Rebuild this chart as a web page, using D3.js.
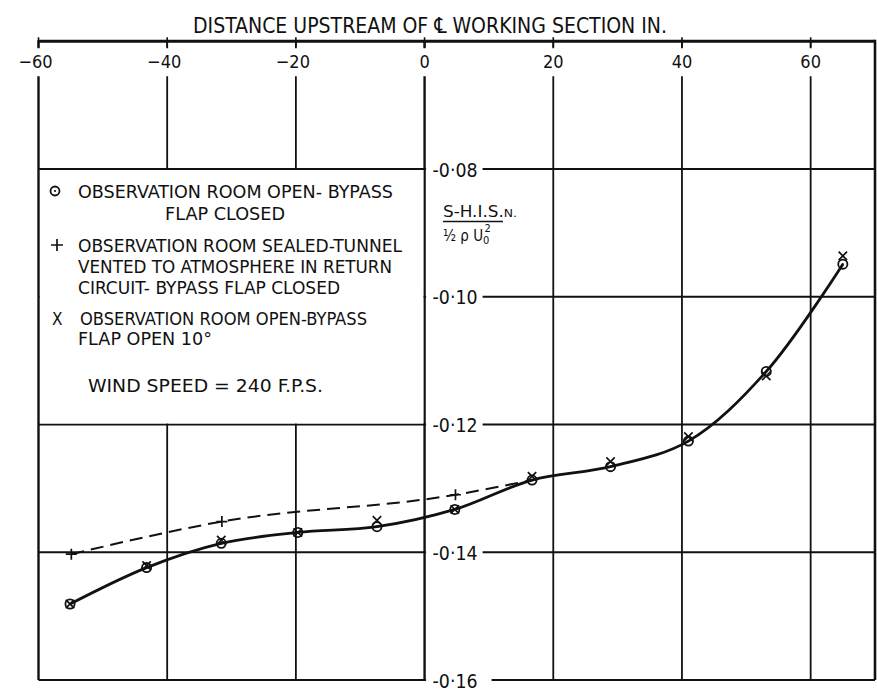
<!DOCTYPE html>
<html><head><meta charset="utf-8">
<script src="https://cdn.jsdelivr.net/npm/d3@7"></script>
<style>
body{margin:0;background:#fff}
svg{display:block}
text{font-family:"DejaVu Sans Condensed","DejaVu Sans",sans-serif;fill:#111}
</style>
</head><body><svg id="c" width="877" height="698"></svg>
<script>
// ---- data ----
const xTicks = [-60, -40, -20, 0, 20, 40, 60];
const xTickLabels = ["−60", "−40", "−20", "0", "20", "40", "60"];
const yTicks = [-0.08, -0.10, -0.12, -0.14, -0.16];
const yTickLabels = ["-0·08", "-0·10", "-0·12", "-0·14", "-0·16"];

const distance = [-55.1, -43.2, -31.6, -19.7, -7.4, 4.7, 16.7, 28.9, 41.0, 53.1, 65.0];
const openBypassClosed = [-0.1481, -0.1424, -0.1386, -0.1369, -0.1360, -0.1333, -0.1287, -0.1266, -0.1226, -0.1117, -0.0949];
const openBypassOpen10 = [-0.1481, -0.1421, -0.1381, -0.1369, -0.1350, -0.1333, -0.1281, -0.1258, -0.1219, -0.1124, -0.0936];
const sealedDistance = [-54.9, -31.5, 4.8, 16.7];
const sealedVented = [-0.1403, -0.1352, -0.1310, -0.1287];

const legendLines = [
  {t: "OBSERVATION ROOM OPEN- BYPASS", x: 78, y: 198, w: 315},
  {t: "FLAP CLOSED", x: 165, y: 220, w: 120},
  {t: "OBSERVATION ROOM SEALED-TUNNEL", x: 78, y: 252, w: 324},
  {t: "VENTED TO ATMOSPHERE IN RETURN", x: 78, y: 273, w: 314},
  {t: "CIRCUIT- BYPASS FLAP CLOSED", x: 78, y: 294, w: 262},
  {t: "OBSERVATION ROOM OPEN-BYPASS", x: 80, y: 325, w: 287},
  {t: "FLAP OPEN 10°", x: 78, y: 345, w: 134},
  {t: "WIND SPEED = 240 F.P.S.", x: 88, y: 392, w: 235}
];

// ---- scales ----
const x = d3.scaleLinear().domain([-60, 70]).range([38.5, 875]);
const y = d3.scaleLinear().domain([-0.06, -0.16]).range([41.25, 680]);

const svg = d3.select("#c");
svg.append("rect").attr("width", 877).attr("height", 698).attr("fill", "#fff");
const ink = "#111";

// gridlines
const gridH = [-0.08, -0.10, -0.12, -0.14];
svg.selectAll(".gh").data(gridH).enter().append("line")
  .attr("x1", x(-60)).attr("x2", x(70))
  .attr("y1", d => y(d)).attr("y2", d => y(d))
  .attr("stroke", ink).attr("stroke-width", 1.8);
svg.selectAll(".gv").data(xTicks.slice(1)).enter().append("line")
  .attr("x1", d => x(d)).attr("x2", d => x(d))
  .attr("y1", y(-0.06)).attr("y2", y(-0.16))
  .attr("stroke", ink).attr("stroke-width", d => d === 0 ? 2.4 : 1.8);

// legend box (blank area knocking out grid)
svg.append("rect")
  .attr("x", x(-60) + 1).attr("y", y(-0.08) + 1)
  .attr("width", x(0) - x(-60) - 2.2).attr("height", y(-0.12) - y(-0.08) - 2)
  .attr("fill", "#fff");

// frame
svg.append("line").attr("x1", x(-60)).attr("x2", x(70)).attr("y1", y(-0.06)).attr("y2", y(-0.06))
  .attr("stroke", ink).attr("stroke-width", 3);
svg.append("line").attr("x1", x(-60)).attr("x2", x(70)).attr("y1", y(-0.16)).attr("y2", y(-0.16))
  .attr("stroke", ink).attr("stroke-width", 2);
svg.append("line").attr("x1", x(-60)).attr("x2", x(-60)).attr("y1", y(-0.06) - 1).attr("y2", y(-0.16))
  .attr("stroke", ink).attr("stroke-width", 2.4);
svg.append("line").attr("x1", x(70)).attr("x2", x(70)).attr("y1", y(-0.06) - 1.5).attr("y2", y(-0.16))
  .attr("stroke", ink).attr("stroke-width", 2.6);

// top tick label backgrounds (lines are broken behind the numbers)
svg.selectAll(".tb").data(xTicks).enter().append("rect")
  .attr("x", d => x(d) - 23).attr("y", y(-0.06) + 7).attr("width", 46).attr("height", 28)
  .attr("fill", "#fff");

// top axis ticks & labels
svg.selectAll(".tk").data(xTicks).enter().append("line")
  .attr("x1", d => x(d)).attr("x2", d => x(d))
  .attr("y1", y(-0.06) - 4).attr("y2", y(-0.06) + 6)
  .attr("stroke", ink).attr("stroke-width", 1.6);
svg.selectAll(".tl").data(xTicks).enter().append("text")
  .attr("x", d => x(d) + (d < 0 ? -3 : 0)).attr("y", 68)
  .attr("text-anchor", "middle").attr("font-size", 18)
  .text((d, i) => xTickLabels[i]);

svg.append("text").attr("x", 193).attr("y", 33).attr("font-size", 22)
  .attr("textLength", 474).attr("lengthAdjust", "spacingAndGlyphs")
  .text("DISTANCE UPSTREAM OF ℄ WORKING SECTION IN.");

// y labels along x = 0
yTicks.forEach((v, i) => {
  const w = v === -0.16 ? 67 : 58;
  svg.append("rect").attr("x", x(0) + 1.5).attr("y", y(v) - 10).attr("width", w - 1.5).attr("height", 20).attr("fill", "#fff");
  svg.append("text").attr("x", x(0) + 8).attr("y", y(v) + 7.5).attr("font-size", 19)
    .attr("textLength", 45).attr("lengthAdjust", "spacingAndGlyphs").text(yTickLabels[i]);
});

// y-axis quantity label
const num = svg.append("text").attr("x", 443).attr("y", 217).attr("font-size", 15)
  .attr("textLength", 74).attr("lengthAdjust", "spacingAndGlyphs");
num.append("tspan").text("S-H.I.S.");
num.append("tspan").attr("font-size", 11).text("N.");
svg.append("line").attr("x1", 443).attr("x2", 503).attr("y1", 221.5).attr("y2", 221.5).attr("stroke", ink).attr("stroke-width", 1.6);
const den = svg.append("text").attr("x", 443).attr("y", 241).attr("font-size", 15);
den.append("tspan").text("½ ρ U");
den.append("tspan").attr("font-size", 11).attr("dy", 3).text("0");
den.append("tspan").attr("font-size", 11).attr("dy", -12).attr("dx", -5).text("2");

// ---- marker helpers ----
function circleMarker(g, cx, cy, r) {
  g.append("circle").attr("cx", cx).attr("cy", cy).attr("r", r).attr("fill", "none").attr("stroke", ink).attr("stroke-width", 1.8);
  g.append("circle").attr("cx", cx).attr("cy", cy).attr("r", 1.1).attr("fill", ink);
}
function plusMarker(g, cx, cy, s) {
  g.append("path").attr("d", `M${cx - s},${cy}H${cx + s}M${cx},${cy - s}V${cy + s}`).attr("stroke", ink).attr("stroke-width", 1.7).attr("fill", "none");
}
function crossMarker(g, cx, cy, s) {
  g.append("path").attr("d", `M${cx - s},${cy - s}L${cx + s},${cy + s}M${cx + s},${cy - s}L${cx - s},${cy + s}`).attr("stroke", ink).attr("stroke-width", 1.7).attr("fill", "none");
}

// ---- curves ----
const solid = d3.line().x(d => x(d[0])).y(d => y(d[1])).curve(d3.curveCatmullRom.alpha(0.5));
svg.append("path").datum(distance.map((d, i) => [d, openBypassClosed[i]]))
  .attr("d", solid).attr("fill", "none").attr("stroke", ink).attr("stroke-width", 2.8);
const dashed = d3.line().x(d => x(d[0])).y(d => y(d[1])).curve(d3.curveMonotoneX);
svg.append("path").datum(sealedDistance.map((d, i) => [d, sealedVented[i]]))
  .attr("d", dashed).attr("fill", "none").attr("stroke", ink).attr("stroke-width", 2)
  .attr("stroke-dasharray", "13,7");

// ---- markers ----
const mg = svg.append("g");
distance.forEach((d, i) => circleMarker(mg, x(d), y(openBypassClosed[i]), 4.6));
distance.forEach((d, i) => crossMarker(mg, x(d), y(openBypassOpen10[i]), 4.2));
sealedDistance.slice(0, 3).forEach((d, i) => plusMarker(mg, x(d), y(sealedVented[i]), 5.5));

// ---- legend ----
legendLines.forEach(l => {
  svg.append("text").attr("x", l.x).attr("y", l.y).attr("font-size", 17)
    .attr("textLength", l.w).attr("lengthAdjust", "spacingAndGlyphs").text(l.t);
});
const lg = svg.append("g");
circleMarker(lg, 55, 191, 4.5);
plusMarker(lg, 57, 245, 6);
svg.append("text").attr("x", 52).attr("y", 325).attr("font-size", 17).text("X");
</script>
</body></html>
